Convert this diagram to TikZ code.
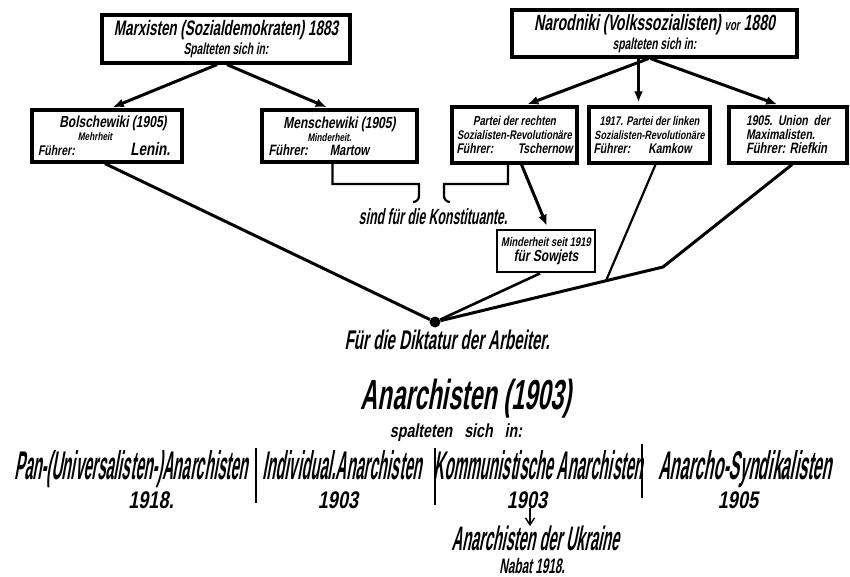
\documentclass[tikz,border=0pt]{standalone}
\usepackage{fontspec}
\newfontfamily\hand{Liberation Sans}[FakeStretch=0.75,FakeSlant=0.18]
\newfontfamily\handtitel{Liberation Sans}[FakeStretch=0.64,FakeSlant=0.18]
\newfontfamily\handcond{Liberation Sans}[FakeStretch=0.56,FakeSlant=0.18]
\newfontfamily\handnarrow{Liberation Sans}[FakeStretch=0.37,FakeSlant=0.18]
\usetikzlibrary{arrows.meta,calc}
\newcommand{\schrift}[1]{\fontsize{#1}{#1}\selectfont}
\tikzset{
  kasten/.style={draw,line width=3.2pt,inner sep=1pt,align=center,font=\hand\bfseries},
  beschrift/.style={inner sep=0pt},
  pfeil/.style={line width=3pt,-{Latex[length=11pt,width=9pt]},shorten >=3pt},
  linie/.style={line width=3pt},
  klammer/.style={line width=2.2pt},
  trenn/.style={line width=2.8pt}
}
\begin{document}
\begin{tikzpicture}[x=1pt,y=-1pt]
\fill[white] (0,0) rectangle (850,577);
\useasboundingbox (0,0) rectangle (850,577);

% obere Kaesten
\node[kasten,font=\handtitel\bfseries,minimum width=248pt,minimum height=48pt] (marx) at (226,39)
  {\schrift{21}Marxisten (Sozialdemokraten) 1883\\[2pt]\schrift{16}Spalteten sich in:};
\node[kasten,font=\handtitel\bfseries,minimum width=285pt,minimum height=47pt] (narod) at (654.5,33.5)
  {\schrift{22}Narodniki (Volkssozialisten) {\schrift{15}vor} 1880\\[2pt]\schrift{16}spalteten sich in:};

\node[kasten,minimum width=150pt,minimum height=52pt] (bolsch) at (107,136)
  {\schrift{16}\hspace*{12pt}Bolschewiki (1905)\\[1pt]
   \schrift{11}\hspace*{-24pt}Mehrheit\\[1pt]
   \makebox[138pt]{\schrift{14}Führer:\hfill\schrift{18}Lenin.\hspace*{6pt}}};
\node[kasten,minimum width=155pt,minimum height=52pt] (mensch) at (339.5,136)
  {\schrift{16}Menschewiki (1905)\\[1pt]
   \schrift{11}\hspace*{-20pt}Minderheit.\\[2pt]
   \makebox[142pt][l]{\schrift{15}Führer:\hspace{22pt}Martow}};

\node[kasten,minimum width=125pt,minimum height=56pt] (rechte) at (514.5,135)
  {\schrift{13}Partei der rechten\\[2pt]
   \schrift{12.5}Sozialisten-Revolutionäre\\[2pt]
   \makebox[116pt]{\schrift{14}Führer:\hfill Tschernow}};
\node[kasten,minimum width=121pt,minimum height=56pt] (linke) at (649.5,135)
  {\schrift{12.5}1917. Partei der linken\\[2pt]
   \schrift{12}Sozialisten-Revolutionäre\\[2pt]
   \makebox[112pt]{\schrift{14}Führer:\hspace{18pt}Kamkow\hfill}};
\node[kasten,minimum width=118pt,minimum height=56pt,align=left] (maxim) at (788,135)
  {\schrift{14}1905.\ \ Union\ \ der\\[2pt]
   \schrift{14}Maximalisten.\\[2pt]
   \schrift{15}Führer: Riefkin};

\node[kasten,minimum width=98pt,minimum height=42pt,line width=2.8pt] (minder) at (546,251)
  {\schrift{12.5}Minderheit seit 1919\\[3pt]\schrift{16}für Sowjets};

% Pfeile
\draw[pfeil] ([xshift=-9pt]marx.south) -- ([xshift=3pt]bolsch.north);
\draw[pfeil] ([xshift=1pt]marx.south) -- ([xshift=-10pt]mensch.north);
\draw[pfeil] ([xshift=-6pt]narod.south) -- ([xshift=10pt]rechte.north);
\draw[pfeil] ([xshift=-11pt]linke.north |- narod.south) -- ([xshift=-11pt]linke.north);
\draw[pfeil] ([xshift=-4pt]narod.south) -- ([xshift=-8pt]maxim.north);
\draw[pfeil] ([xshift=7pt]rechte.south) -- ([xshift=2pt]minder.north);

% Diktatur
\node[circle,fill,inner sep=0pt,minimum size=11pt] (dot) at (435,322) {};
\coordinate (knick) at (663,267);
\coordinate (treff) at ($(dot)!0.75!(knick)$);
\draw[linie] ([xshift=-2pt]bolsch.south) -- (dot);
\draw[line width=2.6pt] ([xshift=-6pt]minder.south) -- (dot);
\draw[linie,line join=round] (dot) -- (knick) -- ([xshift=4pt]maxim.south);
\draw[line width=2.2pt] ([xshift=6pt]linke.south) -- (treff);
\node[beschrift,font=\handcond\bfseries\schrift{27}] (diktatur) at (447,340) {Für die Diktatur der Arbeiter.};

% Konstituante
\coordinate (hakenL) at (419,184);
\coordinate (hakenR) at (444,184);
\draw[klammer] ([xshift=-7pt]mensch.south) |- (hakenL) -- ++(0,12) to[out=270,in=0] ++(-6,6);
\draw[klammer] ([xshift=-6.5pt]rechte.south) |- (hakenR) -- ++(0,12) to[out=270,in=180] ++(6,6);
\node[beschrift,font=\handcond\bfseries\schrift{22}] (konst) at (433,217) {sind für die Konstituante.};

% Anarchisten
\node[beschrift,font=\handcond\bfseries\schrift{42}] (anarch) at (466,399) {Anarchisten (1903)};
\node[beschrift,font=\hand\bfseries\schrift{19}] (spalt) at (456,433) {spalteten\ \ \ sich\ \ \ in:};

\node[beschrift,anchor=base,font=\handnarrow\bfseries\schrift{40}] (pan) at (131,479) {Pan-(Universalisten-)Anarchisten};
\node[beschrift,anchor=base,font=\handnarrow\bfseries\schrift{40}] (indiv) at (342,479) {Individual.Anarchisten};
\node[beschrift,anchor=base,font=\handnarrow\bfseries\schrift{40}] (komm) at (538,479) {Kommunistische Anarchisten};
\node[beschrift,anchor=base,font=\handnarrow\bfseries\schrift{40}] (synd) at (745,479) {\scalebox{1.08}[1]{Anarcho-Syndikalisten}};
\draw[trenn] (256,448) -- (256,503);
\draw[trenn] (435,448) -- (435,505);
\draw[trenn] (642,444) -- (642,498);

\node[beschrift,anchor=base,font=\hand\bfseries\schrift{24}] (j1918) at (151,508) {1918.};
\node[beschrift,anchor=base,font=\hand\bfseries\schrift{24}] (j1903a) at (338,508) {1903};
\node[beschrift,anchor=base,font=\hand\bfseries\schrift{24}] (j1903b) at (527,508) {1903};
\node[beschrift,anchor=base,font=\hand\bfseries\schrift{24}] (j1905) at (738,508) {1905};

\node[beschrift,anchor=base,font=\handnarrow\bfseries\schrift{34}] (ukraine) at (535,550) {\scalebox{1.15}[1]{Anarchisten der Ukraine}};
\node[beschrift,anchor=base,font=\handcond\bfseries\schrift{21}] (nabat) at (532,573) {Nabat 1918.};
\coordinate (ukr) at ([yshift=-1pt]ukraine.north);
\draw[line width=1.4pt,-{Straight Barb[length=7pt,width=9pt]}] ([xshift=3pt]j1903b.base) -- ([xshift=3pt]j1903b.base |- ukr);
\end{tikzpicture}
\end{document}
